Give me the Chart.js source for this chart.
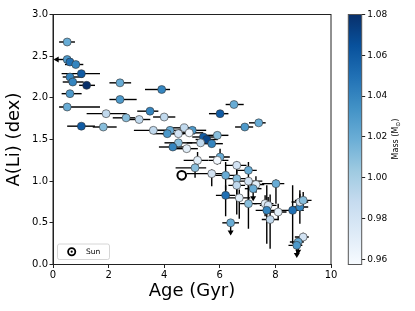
<!DOCTYPE html>
<html>
<head>
<meta charset="utf-8">
<script src="https://cdn.jsdelivr.net/npm/chart.js@4.4.0/dist/chart.umd.min.js"></script>
<style>
  html, body { margin: 0; padding: 0; background: #fff; }
</style>
</head>
<body>
<canvas id="c" width="415" height="311"></canvas>
<script>
// stellar ages (Gyr)
const ages = [
  0.51, 0.51, 0.61, 0.82, 1.02, 0.61, 0.71, 1.21, 2.41, 0.61,
  2.41, 0.51, 3.91, 1.91, 2.63, 3.10, 3.49, 1.02, 1.81, 3.61,
  4.00, 6.51, 6.01, 7.40, 6.90, 4.21, 4.72, 5.01, 4.11, 4.51,
  4.90, 5.41, 5.53, 5.91, 5.31, 5.71, 4.51, 4.31, 4.81, 5.20,
  6.01, 5.91, 6.61, 5.11, 7.03, 5.71, 6.21, 6.61, 7.03, 6.61,
  7.30, 7.20, 8.02, 6.21, 6.70, 7.03, 7.63, 7.74, 7.69, 8.10,
  7.81, 8.62, 8.88, 8.88, 9.00, 6.39, 9.00, 8.82, 8.77
];
// lithium abundance A(Li) (dex)
const aLi = [
  2.67, 2.46, 2.43, 2.40, 2.29, 2.25, 2.19, 2.15, 2.18, 2.05,
  1.98, 1.89, 2.10, 1.81, 1.76, 1.74, 1.84, 1.66, 1.65, 1.61,
  1.77, 1.92, 1.81, 1.70, 1.65, 1.61, 1.64, 1.61, 1.57, 1.57,
  1.58, 1.53, 1.50, 1.55, 1.46, 1.45, 1.46, 1.41, 1.39, 1.25,
  1.29, 1.25, 1.19, 1.16, 1.13, 1.09, 1.07, 1.03, 1.00, 0.95,
  0.96, 0.91, 0.97, 0.83, 0.80, 0.73, 0.73, 0.71, 0.65, 0.63,
  0.54, 0.65, 0.69, 0.75, 0.77, 0.50, 0.33, 0.27, 0.23
];
// stellar mass (Msun)
const mass = [
  1.02, 1.03, 1.05, 1.04, 1.06, 1.04, 1.04, 1.08, 1.02, 1.03,
  1.03, 1.02, 1.04, 0.99, 1.01, 0.99, 1.04, 1.06, 1.01, 0.99,
  0.99, 1.02, 1.06, 1.02, 1.03, 1.02, 0.99, 1.03, 1.03, 0.98,
  0.96, 1.06, 1.07, 1.01, 0.99, 1.04, 1.01, 1.04, 0.97, 0.97,
  1.02, 0.96, 0.98, 1.01, 1.02, 0.98, 1.02, 1.01, 0.98, 0.99,
  0.97, 1.02, 1.02, 1.05, 0.97, 1.01, 0.97, 0.98, 1.04, 0.97,
  0.99, 1.05, 1.04, 0.98, 1.01, 1.02, 0.98, 1.02, 1.03
];
// age errors (lower / upper)
const ageLo = [
  0.29, 0.45, 0.20, 0.39, 0.71, 0.26, 0.36, 0.27, 0.38, 0.30,
  0.38, 0.29, 0.60, 0.70, 0.48, 0.50, 0.46, 0.51, 0.38, 0.70,
  0.40, 0.30, 0.40, 0.35, 0.35, 0.60, 0.50, 0.50, 0.50, 0.60,
  0.50, 0.40, 0.40, 0.40, 0.50, 0.40, 0.50, 0.50, 0.40, 0.50,
  0.40, 0.30, 0.40, 0.70, 0.40, 0.90, 0.40, 0.40, 0.50, 0.30,
  0.30, 0.30, 0.50, 0.35, 0.40, 0.30, 0.40, 0.30, 0.40, 0.40,
  0.30, 0.40, 0.30, 0.30, 0.30, 0.30, 0.30, 0.30, 0.30
];
const ageHi = [
  0.28, 0.20, 0.30, 0.27, 0.67, 0.48, 0.39, 0.30, 0.40, 0.42,
  0.60, 1.18, 0.30, 0.74, 0.32, 0.40, 0.30, 0.49, 0.48, 0.59,
  0.40, 0.35, 0.30, 0.25, 0.30, 0.50, 0.40, 0.50, 0.60, 0.60,
  0.50, 0.40, 0.40, 0.40, 0.50, 0.40, 0.50, 0.50, 0.40, 0.40,
  0.35, 0.40, 0.35, 0.40, 0.30, 0.60, 0.40, 0.40, 0.50, 0.30,
  0.30, 0.30, 0.30, 0.35, 0.40, 0.30, 0.30, 0.30, 0.40, 0.30,
  0.30, 0.40, 0.30, 0.30, 0.30, 0.30, 0.20, 0.20, 0.20
];
// A(Li) errors (lower / upper)
const aliLo = [
  0, 0, 0, 0, 0, 0, 0, 0, 0, 0,
  0, 0, 0, 0, 0, 0, 0, 0, 0, 0,
  0, 0, 0, 0, 0, 0, 0, 0, 0, 0,
  0, 0, 0, 0, 0, 0, 0, 0, 0, 0.10,
  0.08, 0.05, 0.10, 0.12, 0.10, 0.15, 0.18, 0.20, 0.23, 0.35,
  0.10, 0, 0.24, 0.25, 0.25, 0.30, 0.15, 0.10, 0.40, 0.10,
  0.35, 0.40, 0.20, 0.10, 0.10, 0, 0.05, 0, 0
];
const aliHi = [
  0, 0, 0, 0, 0, 0, 0, 0, 0, 0,
  0, 0, 0, 0, 0, 0, 0, 0, 0, 0,
  0, 0, 0, 0, 0, 0, 0, 0, 0, 0,
  0, 0, 0, 0, 0, 0, 0, 0, 0, 0.10,
  0.10, 0.05, 0.05, 0.05, 0.10, 0.05, 0.16, 0.10, 0.05, 0.10,
  0.10, 0, 0.05, 0.12, 0.10, 0.25, 0.10, 0.10, 0.30, 0.10,
  0.30, 0.30, 0.20, 0.10, 0.10, 0, 0.05, 0.05, 0.05
];
// 1 = A(Li) upper limit (down arrow), age upper limit (left arrow)
const liLimit = [
  0, 0, 0, 0, 0, 0, 0, 0, 0, 0,
  0, 0, 0, 0, 0, 0, 0, 0, 0, 0,
  0, 0, 0, 0, 0, 0, 0, 0, 0, 0,
  0, 0, 0, 0, 0, 0, 0, 0, 0, 0,
  0, 0, 0, 0, 0, 0, 0, 0, 0, 0,
  0, 1, 0, 0, 0, 0, 0, 0, 0, 0,
  0, 0, 0, 0, 0, 1, 0, 1, 1
];
const ageLimit = [0, 1];

const sunAge = [4.63];
const sunLi = [1.07];

const xTicks = [0, 2, 4, 6, 8, 10];
const yTicks = [0, 0.5, 1.0, 1.5, 2.0, 2.5, 3.0];
const cbTicks = [0.96, 0.98, 1.00, 1.02, 1.04, 1.06, 1.08];
const massMin = 0.9574, massMax = 1.08;

// matplotlib "Blues"
const bluesStops = ["#f7fbff", "#deebf7", "#c6dbef", "#9ecae1", "#6baed6",
                    "#4292c6", "#2171b5", "#08519c", "#08306b"];
function hex(c) { return [1, 3, 5].map(k => parseInt(c.slice(k, k + 2), 16)); }
function blues(t) {
  t = Math.min(1, Math.max(0, t));
  const p = t * (bluesStops.length - 1);
  const i = Math.min(Math.floor(p), bluesStops.length - 2);
  const f = p - i;
  const a = hex(bluesStops[i]), b = hex(bluesStops[i + 1]);
  const c = a.map((v, k) => Math.round(v + (b[k] - v) * f));
  return `rgb(${c[0]},${c[1]},${c[2]})`;
}
const massColor = m => blues((m - massMin) / (massMax - massMin));

const FONT = "'DejaVu Sans', sans-serif";
Chart.defaults.font.family = FONT;
Chart.defaults.color = "#000";

// error bars + limit arrows, under the markers
const errorBars = {
  id: "errorBars",
  beforeDatasetsDraw(chart) {
    const { ctx, scales: { x, y } } = chart;
    ctx.save();
    ctx.strokeStyle = "#000";
    ctx.fillStyle = "#000";
    ctx.lineWidth = 1.4;
    ages.forEach((a, i) => {
      const px = x.getPixelForValue(a), py = y.getPixelForValue(aLi[i]);
      ctx.beginPath();
      ctx.moveTo(x.getPixelForValue(a - ageLo[i]), py);
      ctx.lineTo(x.getPixelForValue(a + ageHi[i]), py);
      if (aliLo[i] || aliHi[i]) {
        ctx.moveTo(px, y.getPixelForValue(aLi[i] - aliLo[i]));
        ctx.lineTo(px, y.getPixelForValue(aLi[i] + aliHi[i]));
      }
      ctx.stroke();
      if (liLimit[i]) {
        const ey = y.getPixelForValue(aLi[i] - 0.14);
        ctx.beginPath();
        ctx.moveTo(px, py); ctx.lineTo(px, ey - 2); ctx.stroke();
        ctx.beginPath();
        ctx.moveTo(px - 3, ey - 4); ctx.lineTo(px + 3, ey - 4); ctx.lineTo(px, ey + 1);
        ctx.closePath(); ctx.fill();
      }
      if (ageLimit[i]) {
        const ex = x.getPixelForValue(a - ageLo[i]);
        ctx.beginPath();
        ctx.moveTo(ex + 4, py - 3); ctx.lineTo(ex + 4, py + 3); ctx.lineTo(ex - 1, py);
        ctx.closePath(); ctx.fill();
      }
    });
    ctx.restore();
  }
};

// frame, legend and colorbar
const decor = {
  id: "decor",
  afterDraw(chart) {
    const { ctx, chartArea: ca, scales: { cb } } = chart;
    ctx.save();
    // top/right spines
    ctx.strokeStyle = "#222";
    ctx.lineWidth = 1;
    ctx.strokeRect(ca.left, ca.top, ca.right - ca.left, ca.bottom - ca.top);

    // legend
    const lx = 57.5, ly = 244, lw = 52, lh = 15.5, r = 2;
    ctx.fillStyle = "rgba(255,255,255,0.8)";
    ctx.strokeStyle = "#ccc";
    ctx.lineWidth = 0.8;
    ctx.beginPath();
    ctx.roundRect(lx, ly, lw, lh, r);
    ctx.fill(); ctx.stroke();
    ctx.strokeStyle = "#000";
    ctx.lineWidth = 1.8;
    ctx.fillStyle = "#fff";
    ctx.beginPath(); ctx.arc(71.7, 251.7, 3.6, 0, Math.PI * 2); ctx.fill(); ctx.stroke();
    ctx.fillStyle = "#000";
    ctx.beginPath(); ctx.arc(71.7, 251.7, 1.1, 0, Math.PI * 2); ctx.fill();
    ctx.font = `7.5px ${FONT}`;
    ctx.textBaseline = "middle";
    ctx.textAlign = "left";
    ctx.fillText("Sun", 86, 252);

    // colorbar
    const x1 = cb.left, x0 = x1 - 13.4;
    const top = cb.getPixelForValue(massMax), bot = cb.getPixelForValue(massMin);
    const g = ctx.createLinearGradient(0, bot, 0, top);
    bluesStops.forEach((c, k) => g.addColorStop(k / (bluesStops.length - 1), c));
    ctx.fillStyle = g;
    ctx.fillRect(x0, top, x1 - x0, bot - top);
    ctx.strokeStyle = "#555";
    ctx.lineWidth = 1;
    ctx.strokeRect(x0, top, x1 - x0, bot - top);

    // colorbar label with subscript
    ctx.translate(395, 139);
    ctx.rotate(-Math.PI / 2);
    ctx.fillStyle = "#000";
    ctx.textBaseline = "alphabetic";
    ctx.font = `8px ${FONT}`;
    const p1 = "Mass (M", p3 = ")";
    const w1 = ctx.measureText(p1).width, w3 = ctx.measureText(p3).width;
    ctx.font = `6px ${FONT}`;
    const w2 = ctx.measureText("\u2299").width;
    const start = -(w1 + w2 + w3) / 2;
    ctx.font = `8px ${FONT}`;
    ctx.fillText(p1, start, 3);
    ctx.fillText(p3, start + w1 + w2, 3);
    ctx.font = `6px ${FONT}`;
    ctx.fillText("\u2299", start + w1, 5);
    ctx.restore();
  }
};

new Chart(document.getElementById("c"), {
  type: "scatter",
  data: {
    datasets: [
      {
        label: "stars",
        data: ages.map((a, i) => ({ x: a, y: aLi[i] })),
        pointRadius: 4,
        pointHoverRadius: 4,
        pointBackgroundColor: mass.map(massColor),
        pointBorderColor: "#333",
        pointBorderWidth: 0.6
      },
      {
        label: "Sun",
        data: sunAge.map((a, i) => ({ x: a, y: sunLi[i] })),
        pointRadius: 4.3,
        pointBackgroundColor: "#fff",
        pointBorderColor: "#000",
        pointBorderWidth: 2
      },
      {
        label: "Sun dot",
        data: sunAge.map((a, i) => ({ x: a, y: sunLi[i] })),
        pointRadius: 1.3,
        pointBackgroundColor: "#000",
        pointBorderWidth: 0
      }
    ]
  },
  options: {
    responsive: false,
    devicePixelRatio: 1,
    animation: false,
    layout: { padding: { top: 14.5, left: 0, right: 0, bottom: 0 } },
    plugins: { legend: { display: false }, tooltip: { enabled: false } },
    scales: {
      x: {
        type: "linear",
        min: 0, max: 10,
        afterBuildTicks: s => { s.ticks = xTicks.map(v => ({ value: v })); },
        afterFit: s => { s.height = 46.5; },
        grid: { drawOnChartArea: false, drawTicks: true, tickLength: 3.5, color: "#222" },
        border: { display: true, color: "#222", width: 1 },
        ticks: { font: { size: 10 }, padding: 1, maxRotation: 0, color: "#000" },
        title: { display: true, text: "Age (Gyr)", font: { size: 18 }, padding: { top: 0, bottom: 8.5 }, color: "#000" }
      },
      y: {
        type: "linear",
        min: 0, max: 3,
        afterBuildTicks: s => { s.ticks = yTicks.map(v => ({ value: v })); },
        afterFit: s => { s.width = 53; },
        grid: { drawOnChartArea: false, drawTicks: true, tickLength: 3.5, color: "#222" },
        border: { display: true, color: "#222", width: 1 },
        ticks: { font: { size: 10 }, padding: 1.5, color: "#000", callback: v => v.toFixed(1) },
        title: { display: true, text: "A(Li) (dex)", font: { size: 18 }, padding: { top: 4, bottom: 0 }, color: "#000" }
      },
      gap: {
        type: "linear",
        position: "right",
        weight: 0,
        display: true,
        afterFit: s => { s.width = 30.7; },
        grid: { display: false },
        border: { display: false },
        ticks: { display: false }
      },
      cb: {
        type: "linear",
        position: "right",
        weight: 1,
        min: massMin, max: massMax,
        afterBuildTicks: s => { s.ticks = cbTicks.map(v => ({ value: v })); },
        afterFit: s => { s.width = 53.3; },
        grid: { drawOnChartArea: false, drawTicks: true, tickLength: 3.5, color: "#222" },
        border: { display: false },
        ticks: { font: { size: 9 }, padding: 2, color: "#000", callback: v => v.toFixed(2) }
      }
    }
  },
  plugins: [errorBars, decor]
});
</script>
</body>
</html>
